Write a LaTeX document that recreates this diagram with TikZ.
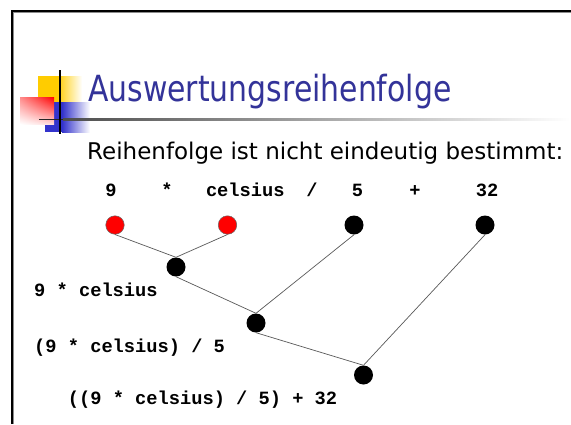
\documentclass[tikz,border=0pt]{standalone}
\usepackage{fontspec}
\usetikzlibrary{shadings}
\setmainfont{DejaVu Sans}
\newfontfamily\codefont{Liberation Mono}
\definecolor{titleblue}{HTML}{333399}
\definecolor{logoyellow}{HTML}{FFCC00}
\definecolor{logored}{HTML}{FF0000}
\definecolor{logoblue}{HTML}{3333CC}
\tikzset{
  code/.style={inner sep=0pt, font=\codefont\bfseries\fontsize{18.7}{20}\selectfont},
  redleaf/.style={circle, fill=red, draw=black!60, line width=0.5pt, minimum size=18.5pt, inner sep=0pt},
  blackleaf/.style={circle, fill=black, minimum size=19pt, inner sep=0pt},
  conn/.style={draw=black!65, line width=0.7pt}
}
\begin{document}
\begin{tikzpicture}[x=1pt,y=-1pt]
\useasboundingbox (0,0) rectangle (571,424);
\fill[white] (0,0) rectangle (571,424);
% frame
\draw[black!45, line width=1pt] (13.5,424) -- (13.5,12.5) -- (571,12.5);
\draw[black, line width=2pt] (11.5,424) -- (11.5,10.5) -- (571,10.5);
% logo
\fill[logoyellow] (38,76) rectangle (57,102);
\shade[left color=logoyellow, right color=white] (57,76) rectangle (82,102);
\fill[logoblue] (45,102) rectangle (62,132);
\shade[left color=logoblue, right color=white] (62,102) rectangle (90,132);
\shade[upper left=logored!45, upper right=logored, lower left=white, lower right=logored!15] (20,97) rectangle (54,124);
% underline
\shade[left color=black!70, right color=white] (63,118.7) rectangle (570,120);
\draw[black!85, line width=1.3pt] (39,119.3) -- (63,119.3);
\draw[black, line width=1.6pt] (60,70) -- (60,134);
% title
\node[anchor=base west, inner sep=0pt, text=titleblue] (title) at (88,101.7)
  {\scalebox{0.83}[1]{\fontsize{36}{40}\selectfont Auswertungsreihenfolge}};
\node[anchor=base west, inner sep=0pt] (sub) at (87,159.3)
  {\fontsize{23}{26}\selectfont Reihenfolge ist nicht eindeutig bestimmt:};
% top tokens
\node[code, anchor=base] (t9) at (111,196.7) {9};
\node[code, anchor=base] (tmul) at (167,196.7) {*};
\node[code, anchor=base] (tcel) at (245.3,196.7) {celsius};
\node[code, anchor=base] (tdiv) at (312,196.7) {/};
\node[code, anchor=base] (t5) at (357.5,196.7) {5};
\node[code, anchor=base] (tplus) at (415,196.7) {+};
\node[code, anchor=base] (t32) at (487,196.7) {32};
% tree nodes
\node[redleaf] (r1) at (115,225) {};
\node[redleaf] (r2) at (227.5,225) {};
\node[blackleaf] (b5) at (354,225) {};
\node[blackleaf] (b32) at (485,225) {};
\node[blackleaf] (m1) at (176,267) {};
\node[blackleaf] (m2) at (256,323) {};
\node[blackleaf] (m3) at (363.5,375) {};
\draw[conn] (r1.south) -- (m1.north);
\draw[conn] (r2.south) -- (m1.north);
\draw[conn] (m1.south) -- (m2.north);
\draw[conn] (b5.south) -- (m2.north);
\draw[conn] (m2.south) -- (m3.north);
\draw[conn] (b32.south) -- (m3.north);
% labels
\node[code, anchor=base west] (l1) at (34,296.7) {9 * celsius};
\node[code, anchor=base west] (l2) at (34,352.7) {(9 * celsius) / 5};
\node[code, anchor=base west] (l3) at (67.7,404) {((9 * celsius) / 5) + 32};
\end{tikzpicture}
\end{document}
